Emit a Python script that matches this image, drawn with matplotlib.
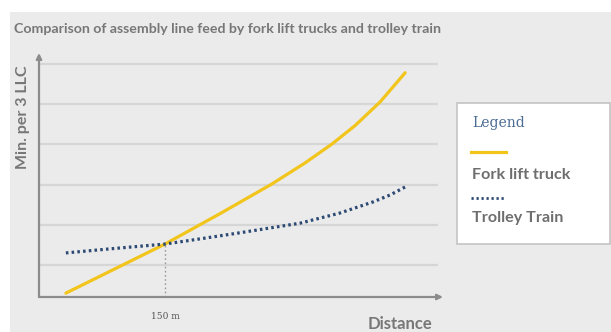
import matplotlib.pyplot as plt
from matplotlib.patches import Rectangle
from matplotlib.lines import Line2D

# distance in metres, time in grid units (min. per 3 LLC)
fork_dist = [32, 90, 150, 215, 277, 317, 349, 376, 406, 436]
fork_time = [0.30, 0.90, 1.52, 2.27, 3.01, 3.54, 4.01, 4.46, 5.05, 5.78]
train_dist = [32, 84, 150, 192, 239, 311, 358, 398, 418, 436]
train_time = [1.30, 1.40, 1.52, 1.65, 1.80, 2.04, 2.29, 2.57, 2.74, 2.94]
cross_dist = 150
cross_time = 1.52
cross_label = "150 m"
series_names = ["Fork lift truck", "Trolley Train"]

yellow = "#f2c51c"
navy = "#2d4a74"
bg = "#ebebeb"

fig = plt.figure(figsize=(6.11, 3.32), dpi=100)
fig.patch.set_facecolor("white")
fig.patches.append(Rectangle((10 / 611, 0), 1, 1 - 12 / 332, transform=fig.transFigure,
                             facecolor=bg, edgecolor="none", zorder=-1))

ax = fig.add_axes([39 / 611, 1 - 297 / 332, 404 / 611, 244 / 332])
ax.set_zorder(1)
ax.set_facecolor("none")
ax.set_xlim(0, 481)
ax.set_ylim(0.204, 6.27)
for s in ax.spines.values():
    s.set_visible(False)
ax.set_xticks([])
ax.set_yticks([])

# horizontal grid
for g in range(1, 7):
    ax.plot([0, 475], [g, g], color="#d6d6d6", lw=1.6, zorder=1, solid_capstyle="butt")

# axes with arrowheads
ax.annotate("", xy=(1.0, 0), xytext=(0, 0), xycoords="axes fraction",
            arrowprops=dict(arrowstyle="-|>", color="#8c8c8c", lw=1.6, mutation_scale=8,
                            shrinkA=0, shrinkB=0), zorder=3)
ax.annotate("", xy=(0, 1.0), xytext=(0, 0), xycoords="axes fraction",
            arrowprops=dict(arrowstyle="-|>", color="#8c8c8c", lw=1.6, mutation_scale=8,
                            shrinkA=0, shrinkB=0), zorder=3)

ax.plot([cross_dist, cross_dist], [0.204, cross_time], color="#9a9a9a", lw=1.0,
        linestyle=(0, (1.2, 1.8)), zorder=2)

ax.plot(fork_dist, fork_time, color=yellow, lw=2.3, solid_capstyle="round",
        solid_joinstyle="round", zorder=4)
ax.plot(train_dist, train_time, color=navy, lw=2.3, linestyle=(0, (0.8, 1.0)),
        dash_capstyle="butt", zorder=5)

ax.text(cross_dist, -0.27, cross_label, ha="center", va="center", fontsize=6.5,
        family="DejaVu Serif", color="#555555")

fig.text(14 / 611, 1 - 29 / 332,
         "Comparison of assembly line feed by fork lift trucks and trolley train",
         fontsize=10.2, family="Lato", weight="bold", color="#777777", va="center")
fig.text(23 / 611, 1 - 117 / 332, "Min. per 3 LLC", rotation=90, fontsize=11.5,
         family="Lato", weight="bold", color="#777777", ha="center", va="center")
fig.text(400 / 611, 1 - 324 / 332, "Distance", fontsize=12, family="Lato",
         weight="bold", color="#777777", ha="center", va="center")

# legend panel
fig.patches.append(Rectangle((457 / 611, 1 - 244 / 332), 153 / 611, 141 / 332,
                             transform=fig.transFigure, facecolor="white",
                             edgecolor="#c4c4c4", lw=1.2, zorder=5))
fig.text(472 / 611, 1 - 123 / 332, "Legend", fontsize=10, family="DejaVu Serif",
         color="#4a6b94", va="center", zorder=6)
fig.lines.append(Line2D([471 / 611, 506 / 611], [1 - 152 / 332] * 2, transform=fig.transFigure,
                        color=yellow, lw=2.3, zorder=6))
fig.text(472 / 611, 1 - 175 / 332, series_names[0], fontsize=11.6, family="Lato",
         weight="bold", color="#6e6e6e", va="center", zorder=6)
fig.lines.append(Line2D([471 / 611, 506 / 611], [1 - 198 / 332] * 2, transform=fig.transFigure,
                        color=navy, lw=2.0, linestyle=(0, (0.8, 1.0)), zorder=6))
fig.text(472 / 611, 1 - 218 / 332, series_names[1], fontsize=11.6, family="Lato",
         weight="bold", color="#6e6e6e", va="center", zorder=6)

fig.savefig("out.png", dpi=100)
